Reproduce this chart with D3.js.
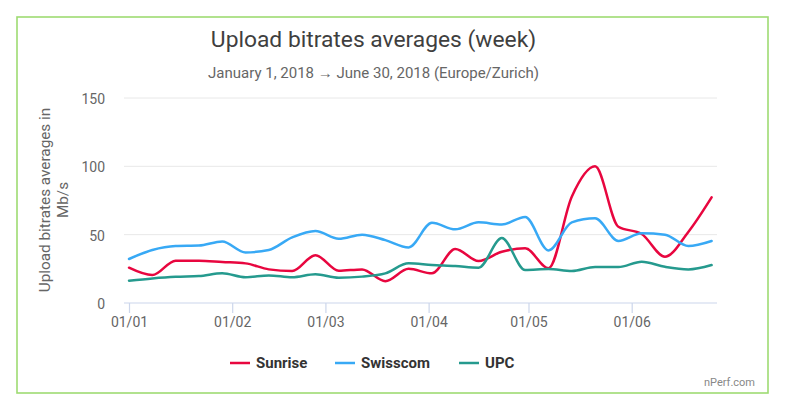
<!DOCTYPE html>
<html>
<head>
<meta charset="utf-8">
<script src="https://cdn.jsdelivr.net/npm/d3@7"></script>
<style>
  html, body { margin: 0; padding: 0; background: #fff; }
  svg { display: block; font-family: Roboto, sans-serif; }
</style>
</head>
<body>
<svg id="chart" width="791" height="407"></svg>
<script>
const sunrise = [25.8, 20.4, 31, 31, 30, 29, 24.6, 23.4, 35, 23.6, 24.6, 16, 25, 21.7, 39.5, 30.7, 37.5, 40, 25.4, 77.8, 100, 55.8, 50.5, 33.9, 52, 77.3];
const swisscom = [32.2, 38.8, 41.7, 42, 45, 37, 38.8, 48, 52.7, 47, 50, 46, 40.7, 58.7, 53.9, 59, 57.5, 62.9, 38.5, 59, 62, 45.4, 51, 50, 41.7, 45.4];
const upc = [16.3, 18, 19.2, 19.7, 21.7, 18.8, 20.2, 18.8, 21, 18.5, 19.3, 21.7, 29, 27.8, 27, 25.8, 47.5, 24.1, 24.8, 23.4, 26.3, 26.3, 30.2, 26.5, 24.6, 27.8];
const seriesNames = ['Sunrise', 'Swisscom', 'UPC'];
const seriesColors = ['#e8063f', '#38a9f5', '#259a8e'];
const yTicks = [0, 50, 100, 150];
const firstWeek = new Date(Date.UTC(2018, 0, 1));

const weeks = sunrise.map((d, i) => d3.utcDay.offset(firstWeek, i * 7));
const svg = d3.select('#chart');

// green frame around the card
svg.append('rect')
  .attr('x', 17).attr('y', 17)
  .attr('width', 751).attr('height', 376)
  .attr('fill', '#fff')
  .attr('stroke', '#9edb72')
  .attr('stroke-width', 1.6);

const x = d3.scaleUtc().domain([firstWeek, weeks[weeks.length - 1]]).range([129, 711.6]);
const y = d3.scaleLinear().domain([0, 150]).range([303, 98]);

const plotLeft = 124, plotRight = 717;

// horizontal grid
svg.append('g').selectAll('line')
  .data(yTicks.filter(d => d > 0))
  .join('line')
  .attr('x1', plotLeft).attr('x2', plotRight)
  .attr('y1', d => y(d)).attr('y2', d => y(d))
  .attr('stroke', '#e8e8e8').attr('stroke-width', 1);

// y axis, labels only
const yAxis = svg.append('g')
  .attr('transform', `translate(${plotLeft},1)`)
  .call(d3.axisLeft(y).tickValues(yTicks).tickSize(0).tickPadding(19));
yAxis.select('.domain').remove();
yAxis.selectAll('text').attr('fill', '#666').style('font-size', '14px').style('font-family', 'Roboto');

// x axis
const xAxis = svg.append('g')
  .attr('transform', 'translate(0,303)')
  .call(d3.axisBottom(x)
    .tickValues(d3.utcMonth.range(firstWeek, new Date(Date.UTC(2018, 6, 1))))
    .tickFormat(d3.utcFormat('%d/%m'))
    .tickSizeOuter(0).tickSizeInner(10).tickPadding(4));
xAxis.select('.domain').attr('d', `M${plotLeft},0H${plotRight}`).attr('stroke', '#ccd6eb').attr('stroke-width', 1.2);
xAxis.selectAll('line').attr('stroke', '#ccd6eb').attr('stroke-width', 1.2);
xAxis.selectAll('text').attr('fill', '#666').style('font-size', '14px').style('font-family', 'Roboto');

// series
const line = d3.line().x((d, i) => x(weeks[i])).y(d => y(d)).curve(d3.curveMonotoneX);
[sunrise, swisscom, upc].forEach((values, i) => {
  svg.append('path')
    .attr('d', line(values))
    .attr('fill', 'none')
    .attr('stroke', seriesColors[i])
    .attr('stroke-width', 2.5)
    .attr('stroke-linejoin', 'round')
    .attr('stroke-linecap', 'round');
});

// titles
svg.append('text')
  .attr('x', 373.5).attr('y', 47)
  .attr('text-anchor', 'middle')
  .attr('fill', '#3f3f3f')
  .style('font-size', '22.8px')
  .text('Upload bitrates averages (week)');

svg.append('text')
  .attr('x', 373.5).attr('y', 78)
  .attr('text-anchor', 'middle')
  .attr('fill', '#666')
  .style('font-size', '15px')
  .text('January 1, 2018 \u2192 June 30, 2018 (Europe/Zurich)');

// rotated y title, wraps on two lines
const yTitle = svg.append('text')
  .attr('transform', 'translate(50,200) rotate(-90)')
  .attr('text-anchor', 'middle')
  .attr('fill', '#666')
  .style('font-size', '15.3px');
yTitle.append('tspan').attr('x', 0).attr('y', 0).text('Upload bitrates averages in');
yTitle.append('tspan').attr('x', 0).attr('y', 18).text('Mb/s');

// legend
const legendX = [230, 335, 459];
const legend = svg.append('g').selectAll('g')
  .data(seriesNames)
  .join('g')
  .attr('transform', (d, i) => `translate(${legendX[i]},363)`);
legend.append('line')
  .attr('x1', 0).attr('x2', 20)
  .attr('stroke', (d, i) => seriesColors[i])
  .attr('stroke-width', 2.5);
legend.append('text')
  .attr('x', 26).attr('y', 5)
  .attr('fill', '#333')
  .style('font-size', '15px')
  .style('font-weight', 'bold')
  .text(d => d);

// credit
svg.append('text')
  .attr('x', 755).attr('y', 386)
  .attr('text-anchor', 'end')
  .attr('fill', '#888')
  .style('font-size', '11px')
  .text('nPerf.com');
</script>
</body>
</html>
